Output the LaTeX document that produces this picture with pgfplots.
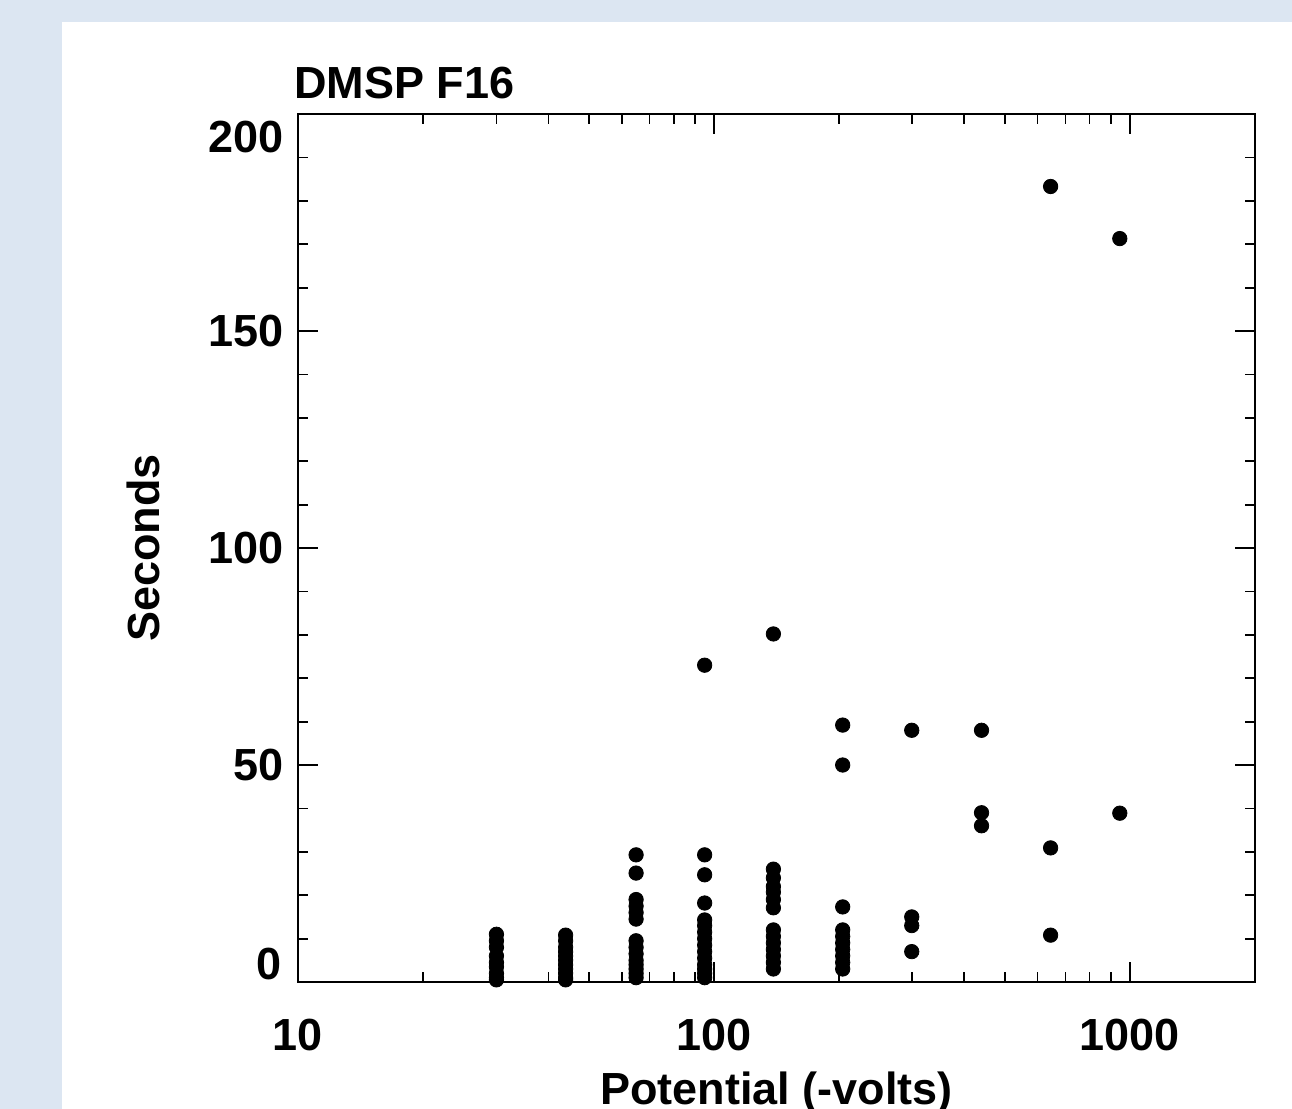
\documentclass[border=0pt]{standalone}
\usepackage{fontspec}
\setmainfont{Liberation Sans}
\usepackage{pgfplots}
\pgfplotsset{compat=1.18}
\definecolor{pagebg}{HTML}{DCE6F2}
\newcommand{\lblfont}{\bfseries\fontsize{22.5}{26}\selectfont}

\begin{document}
\begin{tikzpicture}
  % page: 1292x1109 px at 0.5pt per px
  \clip (0,0) rectangle (646pt,-554.5pt);
  \fill[pagebg] (0,0) rectangle (646pt,-554.5pt);
  \fill[white] (31pt,-11pt) rectangle (646pt,-554.5pt);
  \begin{axis}[
    name=ax,
    at={(149pt,-491pt)}, anchor=south west,
    width=478.5pt, height=434pt, scale only axis,
    xmode=log, xmin=10, xmax=2000, ymin=0, ymax=200,
    xtick={10,100,1000}, xticklabels={10,100,1000},
    ytick={0,50,100,150,200}, yticklabels={,50,100,150,},
    extra y ticks={200}, extra y tick labels={200},
    extra y tick style={yticklabel style={anchor=north east}},
    minor y tick num=4,
    tick align=inside, major tick length=10pt, minor tick length=5pt,
    axis line style={line width=1.3pt},
    every tick/.style={black, line width=0.9pt},
    /pgf/number format/assume math mode=true,
    font=\lblfont,
    tick label style={font=\lblfont},
    xticklabel style={yshift=-15pt},
    yticklabel style={xshift=-3.5pt},
    title={DMSP F16},
    title style={at={(axis description cs:0,1)}, anchor=base west, yshift=2pt, xshift=-2pt, inner sep=0pt},
    xlabel={Potential (-volts)},
    xlabel style={at={(axis description cs:0.5,0)}, anchor=base, yshift=-61pt, inner sep=0pt},
    ylabel={Seconds},
    ylabel style={at={(axis description cs:0,0.5)}, anchor=center, yshift=77.5pt, inner sep=0pt},
  ]
    \addplot[only marks, mark=*, mark size=3.6pt, black] coordinates {
      (30,11) (30,9.5) (30,8) (30,6) (30,4.5) (30,3.5) (30,2) (30,1) (30,0.5)
      (44,10.8) (44,9.5) (44,8) (44,7) (44,6) (44,5) (44,4) (44,3) (44,2) (44,1) (44,0.5)
      (65,29.3) (65,25.1) (65,19) (65,17.5) (65,16) (65,14.5)
      (65,9.5) (65,8) (65,6.5) (65,5) (65,4) (65,3) (65,2) (65,1)
      (95,73) (95,29.3) (95,24.7) (95,18.2) (95,14.3) (95,13) (95,11.5) (95,10)
      (95,8.5) (95,7) (95,5.5) (95,4) (95,3) (95,2) (95,1)
      (139,80.2) (139,26) (139,24) (139,22) (139,20.7) (139,19) (139,17.1)
      (139,12) (139,10.5) (139,9) (139,7.5) (139,6) (139,4.5) (139,3)
      (204,59.2) (204,50) (204,17.3) (204,12) (204,10.5) (204,9) (204,7.5) (204,6) (204,4.5) (204,3)
      (299,58) (299,15) (299,13) (299,7)
      (440,58) (440,39) (440,36)
      (645,183.3) (645,30.9) (645,10.8)
      (946,171.3) (946,38.9)
    };
  \end{axis}
  \node[anchor=south east, inner sep=0pt, font=\lblfont] at (ax.south west) [xshift=-8pt, yshift=1pt] {0};
\end{tikzpicture}
\end{document}
